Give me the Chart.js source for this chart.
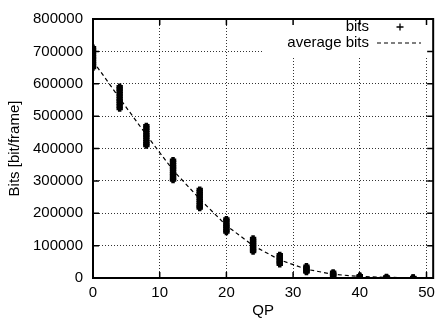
<!DOCTYPE html>
<html>
<head>
<meta charset="utf-8">
<script src="https://cdn.jsdelivr.net/npm/chart.js@4.4.0/dist/chart.umd.min.js"></script>
<style>
  html, body { margin: 0; padding: 0; background: #fff; }
  #chart { display: block; }
</style>
</head>
<body>
<canvas id="chart" width="441" height="327"></canvas>
<script>
// QP values where frames were coded
const qpValues = [0, 4, 8, 12, 16, 20, 24, 28, 32, 36, 40, 44, 48];

// bits per frame, one list per QP
const bitsSamples = [
  [711000, 704500, 698000, 690500, 683000, 676500, 669000, 662500, 656000, 650000],
  [591000, 584000, 576500, 569000, 561500, 553000, 546500, 539000, 531000, 523500],
  [470000, 463500, 456000, 449000, 442000, 435500, 428000, 421000, 414500, 409000],
  [364000, 357500, 350000, 343000, 336500, 329000, 322000, 315500, 308000, 302500],
  [273000, 266500, 260000, 253500, 246000, 239500, 233000, 226000, 220500, 216000],
  [182000, 176500, 170000, 164000, 158500, 153000, 147000, 142000],
  [122000, 116000, 110500, 104000, 98500, 92000, 86500, 81500],
  [71500, 66000, 61000, 56000, 51500, 47000, 42500],
  [36500, 32000, 28000, 24500, 21000, 18500],
  [17500, 14000, 11000, 8500, 6500],
  [7000, 5000, 3500, 2500],
  [3000, 2000, 1200],
  [1500, 900, 500],
];

// average bits per QP
const averageBits = [670000, 555000, 442000, 333000, 244000, 162000, 100000, 56000, 27000, 11500, 4500, 2000, 900];

const xTicks = [0, 10, 20, 30, 40, 50];
const yTicks = [0, 100000, 200000, 300000, 400000, 500000, 600000, 700000, 800000];

const FONT = "'Liberation Sans', Arial, Helvetica, sans-serif";

const bitsPoints = qpValues.flatMap((qp, i) =>
  bitsSamples[i].map((b) => ({ x: qp, y: b }))
);
const avgPoints = qpValues.map((qp, i) => ({ x: qp, y: averageBits[i] }));

// gnuplot style frame, inward ticks and opaque key
const framePlugin = {
  id: "frame",
  afterDatasetsDraw(chart) {
    const { ctx, chartArea: a, scales } = chart;
    ctx.save();

    // opaque key box
    ctx.fillStyle = "#fff";
    ctx.fillRect(262, a.top + 1, 168, 38);

    // frame
    ctx.strokeStyle = "#000";
    ctx.lineWidth = 2;
    ctx.strokeRect(a.left, a.top, a.right - a.left, a.bottom - a.top);

    // inward ticks
    ctx.lineWidth = 1.5;
    ctx.beginPath();
    xTicks.forEach((v) => {
      const px = scales.x.getPixelForValue(v);
      ctx.moveTo(px, a.bottom);
      ctx.lineTo(px, a.bottom - 6);
      ctx.moveTo(px, a.top);
      ctx.lineTo(px, a.top + 6);
    });
    yTicks.forEach((v) => {
      const py = scales.y.getPixelForValue(v);
      ctx.moveTo(a.left, py);
      ctx.lineTo(a.left + 6, py);
      ctx.moveTo(a.right, py);
      ctx.lineTo(a.right - 6, py);
    });
    ctx.stroke();

    // key
    ctx.fillStyle = "#000";
    ctx.font = "15px " + FONT;
    ctx.textAlign = "right";
    ctx.textBaseline = "middle";
    ctx.fillText("bits", 369, 27);
    ctx.fillText("average bits", 369, 43);

    ctx.lineWidth = 1.3;
    ctx.beginPath();
    ctx.moveTo(396.5, 27);
    ctx.lineTo(403.5, 27);
    ctx.moveTo(400, 23.5);
    ctx.lineTo(400, 30.5);
    ctx.stroke();

    ctx.lineWidth = 1.2;
    ctx.setLineDash([4, 3]);
    ctx.beginPath();
    ctx.moveTo(377, 43);
    ctx.lineTo(421, 43);
    ctx.stroke();

    ctx.restore();
  },
};

const ctx = document.getElementById("chart").getContext("2d");
new Chart(ctx, {
  type: "scatter",
  data: {
    datasets: [
      {
        label: "bits",
        data: bitsPoints,
        pointStyle: "cross",
        pointRadius: 3.2,
        borderWidth: 3.5,
        borderColor: "#000",
        backgroundColor: "#000",
        showLine: false,
      },
      {
        label: "average bits",
        data: avgPoints,
        showLine: true,
        pointRadius: 0,
        borderColor: "#000",
        borderWidth: 1.2,
        borderDash: [4, 3],
        tension: 0,
      },
    ],
  },
  options: {
    responsive: false,
    animation: false,
    devicePixelRatio: 1,
    layout: {
      padding: { top: 13, right: 1, left: 0, bottom: 0 },
    },
    plugins: {
      legend: { display: false },
      tooltip: { enabled: false },
    },
    scales: {
      x: {
        type: "linear",
        min: 0,
        max: 51,
        afterBuildTicks: (scale) => {
          scale.ticks = xTicks.map((v) => ({ value: v }));
        },
        afterFit: (scale) => {
          scale.height = 49;
        },
        ticks: {
          color: "#000",
          padding: 6,
          font: { family: FONT, size: 15 },
          maxRotation: 0,
        },
        grid: {
          drawTicks: false,
          color: (c) => (c.tick && c.tick.value === 0 ? "rgba(0,0,0,0)" : "#333"),
          lineWidth: 1,
        },
        border: { display: false, dash: [1, 2] },
        title: {
          display: true,
          text: "QP",
          color: "#000",
          font: { family: FONT, size: 15 },
          padding: { top: 0, bottom: 7 },
        },
      },
      y: {
        type: "linear",
        min: 0,
        max: 800000,
        afterBuildTicks: (scale) => {
          scale.ticks = yTicks.map((v) => ({ value: v }));
        },
        afterFit: (scale) => {
          scale.width = 93;
        },
        ticks: {
          color: "#000",
          padding: 10,
          font: { family: FONT, size: 15 },
          callback: (v) => String(v),
        },
        grid: {
          drawTicks: false,
          color: (c) => (c.tick && c.tick.value === 0 ? "rgba(0,0,0,0)" : "#333"),
          lineWidth: 1,
        },
        border: { display: false, dash: [1, 2] },
        title: {
          display: true,
          text: "Bits [bit/frame]",
          color: "#000",
          font: { family: FONT, size: 15 },
          padding: { top: 6, bottom: 0 },
        },
      },
    },
  },
  plugins: [framePlugin],
});
</script>
</body>
</html>
